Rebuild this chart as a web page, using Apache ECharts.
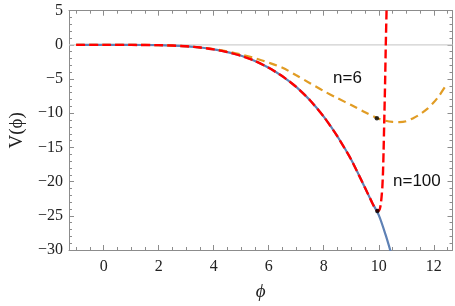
<!DOCTYPE html>
<html><head><meta charset="utf-8">
<script src="https://cdn.jsdelivr.net/npm/echarts@6/dist/echarts.min.js"></script>
<style>html,body{margin:0;padding:0;background:#fff}#c{width:455px;height:306px}</style>
</head><body><div id="c"></div>
<script>
// ---- data ----
const phiBlue = [-1, 0, 1, 2, 2.5, 3, 3.5, 4, 4.5, 5, 5.5, 6, 6.5, 7, 7.5, 8, 8.5, 9, 9.5, 9.75, 10, 10.25, 10.5];
const vBlue   = [0, 0, -0.003, -0.04, -0.1, -0.21, -0.38, -0.66, -1.05, -1.6, -2.35, -3.35, -4.6, -6.15, -8.1, -10.5, -13.4, -16.8, -20.9, -23.0, -24.9, -27.8, -31.2];

const phiRed = [-1, 0, 1, 2, 2.5, 3, 3.5, 4, 4.5, 5, 5.5, 6, 6.5, 7, 7.5, 8, 8.5, 9, 9.5, 9.75, 9.85, 9.93, 9.98, 10.03, 10.07, 10.1, 10.13, 10.155, 10.175, 10.2, 10.23, 10.255, 10.28, 10.31];
const vRed   = [0, 0, -0.003, -0.04, -0.1, -0.21, -0.38, -0.66, -1.05, -1.6, -2.35, -3.35, -4.6, -6.15, -8.1, -10.5, -13.4, -16.8, -20.9, -23.0, -23.8, -24.2, -24.3, -24.1, -23.4, -22.3, -20.8, -18.5, -15.5, -11.0, -5.5, 0, 4.5, 10];

const phiOrange = [-1, 0, 1, 2, 3, 3.5, 4, 4.5, 5, 5.5, 6, 6.5, 7, 7.5, 8, 8.5, 9, 9.5, 10, 10.25, 10.5, 10.75, 11, 11.25, 11.5, 11.75, 12, 12.2, 12.4];
const vOrange   = [0, 0, -0.003, -0.04, -0.2, -0.36, -0.6, -0.95, -1.4, -1.95, -2.6, -3.35, -4.45, -5.6, -6.75, -7.8, -8.8, -9.85, -10.8, -11.1, -11.27, -11.3, -11.17, -10.72, -10.15, -9.4, -8.4, -7.4, -6.2];

const dotsPhi = [9.93, 9.95];
const dotsV   = [-10.73, -24.3];

const xMajorTicks = [0, 2, 4, 6, 8, 10, 12];
const xMinorTicks = [-1, -0.5, 0.5, 1, 1.5, 2.5, 3, 3.5, 4.5, 5, 5.5, 6.5, 7, 7.5, 8.5, 9, 9.5, 10.5, 11, 11.5, 12.5];
const yMin = -30, yMax = 5, yStep = 5;
const xMin = -1.26, xMax = 12.68;

const labelN6 = 'n=6', labelN100 = 'n=100';

// ---- chart ----
const pairs = (a, b) => a.map((x, i) => [x, b[i]]);
const frameColor = '#8c8c8c';
const tickFont = {fontFamily: 'Liberation Serif', fontSize: 16, color: '#222'};
const minus = v => String(v).replace('-', '\u2212');

function xAx(pos, major, labels) {
  return {
    type: 'value', min: xMin, max: xMax, position: pos, gridIndex: 0,
    axisLine: {show: major, onZero: false, lineStyle: {color: frameColor, width: 1}},
    axisTick: {show: true, inside: true, length: major ? 5 : 3, customValues: major ? xMajorTicks : xMinorTicks,
               lineStyle: {color: frameColor}},
    axisLabel: labels ? Object.assign({show: true, customValues: xMajorTicks, margin: 9, formatter: minus}, tickFont) : {show: false},
    splitLine: {show: false},
    name: labels ? '\u03d5' : '', nameLocation: 'middle', nameGap: 32,
    nameTextStyle: {fontFamily: 'Liberation Serif', fontStyle: 'italic', fontSize: 19, color: '#222'}
  };
}
function yAx(pos, labels) {
  return {
    type: 'value', min: yMin, max: yMax, interval: yStep, position: pos,
    axisLine: {show: true, onZero: false, lineStyle: {color: frameColor, width: 1}},
    axisTick: {show: true, inside: true, length: 5, lineStyle: {color: frameColor}},
    minorTick: {show: true, splitNumber: 5, length: 3, lineStyle: {color: frameColor}},
    axisLabel: labels ? Object.assign({show: true, margin: 6, formatter: minus}, tickFont) : {show: false},
    splitLine: {show: false},
    name: labels ? 'V(\u03d5)' : '', nameLocation: 'middle', nameGap: 42, nameRotate: 90,
    nameTextStyle: {fontFamily: 'Liberation Serif', fontSize: 19, color: '#222'}
  };
}

const chart = echarts.init(document.getElementById('c'), null, {renderer: 'canvas'});
chart.setOption({
  animation: false,
  grid: {left: 63, right: 2.5, top: 10.7, bottom: 56},
  xAxis: [xAx('bottom', true, true), xAx('bottom', false, false), xAx('top', true, false), xAx('top', false, false)],
  yAxis: [yAx('left', true), yAx('right', false)],
  series: [
    {type: 'line', data: [[xMin, 0], [xMax, 0]], symbol: 'none', z: 1, silent: true,
     lineStyle: {color: '#cfcfcf', width: 1.2}},
    {type: 'line', data: pairs(phiBlue, vBlue), smooth: 0.3, symbol: 'none', z: 2,
     lineStyle: {color: '#5E81B5', width: 2.2}},
    {type: 'line', data: pairs(phiOrange, vOrange), smooth: 0.3, symbol: 'none', z: 3,
     lineStyle: {color: '#E19C24', width: 2.2, type: [8, 5]}},
    {type: 'line', data: pairs(phiRed, vRed), smooth: 0.2, symbol: 'none', z: 4,
     lineStyle: {color: '#FF0000', width: 2.4, type: [9, 4]}},
    {type: 'scatter', data: pairs(dotsPhi, dotsV), symbolSize: 4.5, z: 5,
     itemStyle: {color: '#000'}}
  ],
  graphic: [
    {type: 'text', left: 333, top: 70, style: {text: labelN6, fontFamily: 'Liberation Sans', fontSize: 17, fill: '#111'}},
    {type: 'text', left: 393, top: 173, style: {text: labelN100, fontFamily: 'Liberation Sans', fontSize: 17, fill: '#111'}}
  ]
});
</script></body></html>
